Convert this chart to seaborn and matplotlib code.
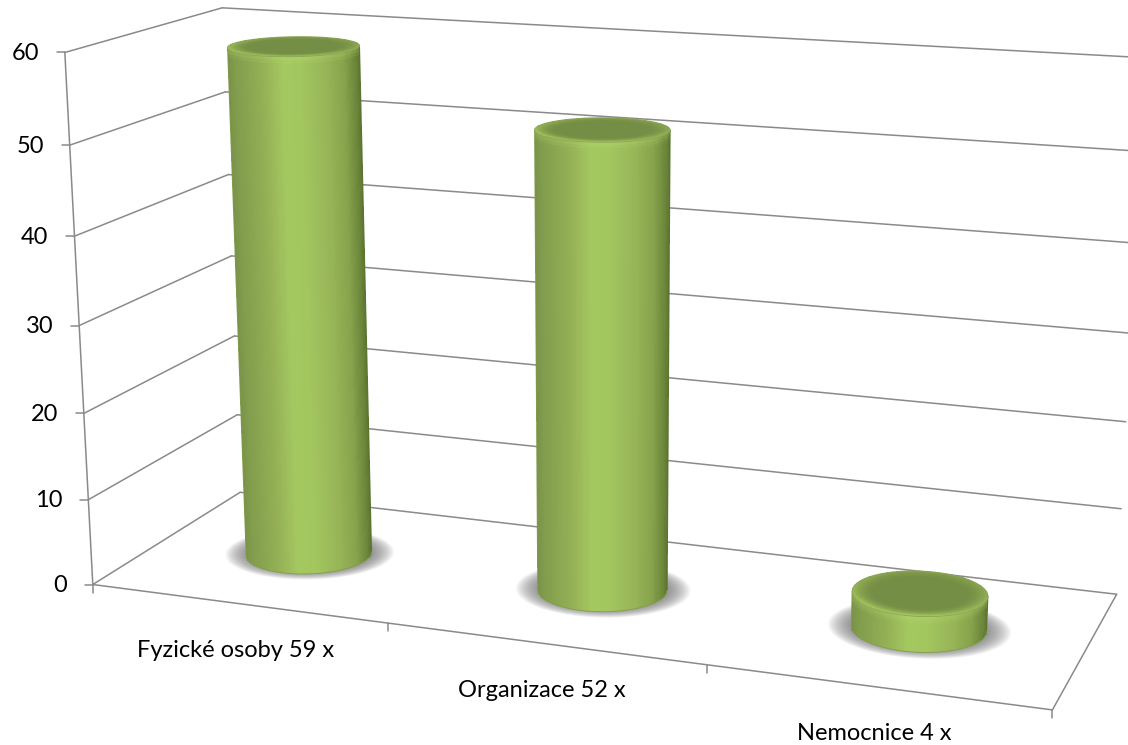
import numpy as np
import pandas as pd
import matplotlib
matplotlib.use('Agg')
import matplotlib.pyplot as plt
import seaborn as sns
from matplotlib.colors import to_rgb

categories = ['Fyzické osoby 59 x', 'Organizace 52 x', 'Nemocnice 4 x']
values = [59, 52, 4]
y_ticks = [0, 10, 20, 30, 40, 50, 60]

# box corners (category pos, depth, value) -> where they sit in the picture
box_world = [(0, 0, 0), (3, 0, 0), (3, 1, 0), (0, 1, 0), (0, 0, 60), (0, 1, 60), (3, 1, 60)]
box_screen = [(93, 584), (1052, 711), (1117, 593), (240, 493), (65, 52), (222, 8), (1145, 58)]

line_color = '#8a8a8a'
radius_x, radius_y = 0.2, 0.2
depth_pos = 0.5

body_stops = [0, .06, .25, .42, .55, .75, .88, .97, 1]
body_cols = ['#78934a', '#829d4c', '#93af55', '#a4c860', '#a3c65f', '#97b457', '#87a34c', '#6a8539', '#5a7530']
body_cols = np.array([to_rgb(c) for c in body_cols])


def fit_projection(world, screen):
    rows, rhs = [], []
    for (x, y, z), (u, v) in zip(world, screen):
        rows.append([x, y, z, 1, 0, 0, 0, 0, -u*x, -u*y, -u*z])
        rows.append([0, 0, 0, 0, x, y, z, 1, -v*x, -v*y, -v*z])
        rhs += [u, v]
    p = np.linalg.lstsq(np.array(rows, float), np.array(rhs, float), rcond=None)[0]
    return np.append(p, 1).reshape(3, 4)


P = fit_projection(box_world, box_screen)


def project(x, y, z):
    x, y, z = np.broadcast_arrays(x, y, z)
    w = P[2, 0]*x + P[2, 1]*y + P[2, 2]*z + P[2, 3]
    sx = (P[0, 0]*x + P[0, 1]*y + P[0, 2]*z + P[0, 3]) / w
    sy = (P[1, 0]*x + P[1, 1]*y + P[1, 2]*z + P[1, 3]) / w
    return sx, sy


def disc_mesh(i, z, scale, rho, th):
    r, t = np.meshgrid(rho, th)
    return project(i + .5 + scale*radius_x*r*np.cos(t), depth_pos + scale*radius_y*r*np.sin(t), z)


def draw_shadow(ax, i):
    # stacked see-through discs give the soft edge
    th = np.linspace(0, 2*np.pi, 181)
    for s in np.linspace(1, 0.74, 26):
        sx, sy = project(i + .5 + s*1.36*radius_x*np.cos(th),
                         depth_pos + .006 + s*1.28*radius_y*np.sin(th), 0)
        ax.fill(sx, sy, color='#6a6a6a', alpha=.04, lw=0, zorder=3)


def draw_body(ax, i, v):
    th = np.linspace(np.pi - .6, 2*np.pi + .6, 600)
    zs = np.linspace(0, v, 160)
    u = np.linspace(0, 1, 120)
    X = np.zeros((len(zs), len(u)))
    Y = np.zeros_like(X)
    for j, z in enumerate(zs):
        sx, sy = project(i + .5 + radius_x*np.cos(th), depth_pos + radius_y*np.sin(th), z)
        a, b = sx.argmin(), sx.argmax()
        X[j] = sx[a] + u*(sx[b] - sx[a])
        Y[j] = np.interp(X[j], sx[a:b+1], sy[a:b+1])
    um = (u[:-1] + u[1:]) / 2
    base = np.stack([np.interp(um, body_stops, body_cols[:, k]) for k in range(3)], axis=1)
    C = np.repeat(base[None, :, :], len(zs) - 1, axis=0)
    zm = (zs[:-1] + zs[1:]) / 2
    glow = np.clip(1 - (v - zm) / .9, 0, 1)[:, None, None] * .25
    C = C*(1 - glow) + np.array(to_rgb('#c3e47a'))*glow
    ax.pcolormesh(X, Y, C, zorder=4)
    ax.plot(X[:, 0], Y[:, 0], color='#829d4c', lw=.6, zorder=4)
    ax.plot(X[:, -1], Y[:, -1], color='#5a7530', lw=.6, zorder=4)
    ax.plot(X[0], Y[0], color='#829d4c', lw=.6, zorder=4)


def draw_top(ax, i, v):
    rho = np.linspace(0, 1, 60)
    th = np.linspace(0, 2*np.pi, 241)
    X, Y = disc_mesh(i, v, 1, rho, th)
    rm = (rho[:-1] + rho[1:]) / 2
    tm = (th[:-1] + th[1:]) / 2
    r, t = np.meshgrid(rm, tm)
    inner = np.array(to_rgb('#758e45'))
    front = np.array(to_rgb('#aed463'))
    back = np.array(to_rgb('#86a14e'))
    k = ((-np.sin(t) + 1) / 2)[..., None]**1.3
    rim = back*(1 - k) + front*k
    f = (np.clip((r - .68) / .32, 0, 1)**1.8)[..., None]
    ax.pcolormesh(X, Y, inner*(1 - f) + rim*f, zorder=5)
    ax.plot(X[:, -1], Y[:, -1], color='#8aa553', lw=.6, zorder=5)


sns.set_theme(style='white')
plt.rcParams['font.family'] = ['Lato', 'DejaVu Sans']

fig = plt.figure(figsize=(11.28, 7.45), dpi=100)
ax = fig.add_axes([0, 0, 1, 1])

# wall and floor lines
segs = []
def add_line(a, b):
    sx, sy = project(*zip(a, b))
    n = len(segs)
    segs.append(pd.DataFrame({'px': sx, 'py': sy, 'seg': n}))

for t in y_ticks:
    add_line((0, 0, t), (0, 1, t))
    add_line((0, 1, t), (3, 1, t))
add_line((0, 0, 0), (0, 0, 60))
add_line((0, 0, 0), (3, 0, 0))
add_line((3, 0, 0), (3, 1, 0))
lines = pd.concat(segs, ignore_index=True)
sns.lineplot(data=lines, x='px', y='py', units='seg', estimator=None, sort=False,
             color=line_color, lw=1.1, ax=ax, zorder=1)

# ticks are a fixed pixel length, labels follow the axis
for t in y_ticks:
    sx, sy = project(0, 0, t)
    sx, sy = float(sx), float(sy)
    ax.plot([sx - 8, sx], [sy, sy], color=line_color, lw=1.1, zorder=1)
    ax.text(sx - 26, sy + 1, str(t), ha='right', va='center', fontsize=17, color='black')
for t in range(4):
    sx, sy = project(t, 0, 0)
    sx, sy = float(sx), float(sy)
    ax.plot([sx, sx], [sy, sy + 8], color=line_color, lw=1.1, zorder=1)
for i, name in enumerate(categories):
    sx, sy = project(i + .5, 0, 0)
    ax.text(float(sx) - 2, float(sy) + 47, name, ha='center', va='center', fontsize=17, color='black')

for i, v in enumerate(values):
    draw_shadow(ax, i)
    draw_body(ax, i, v)
    draw_top(ax, i, v)

ax.set_xlim(0, 1128)
ax.set_ylim(745, 0)
ax.axis('off')
fig.savefig('out.png', dpi=100)
